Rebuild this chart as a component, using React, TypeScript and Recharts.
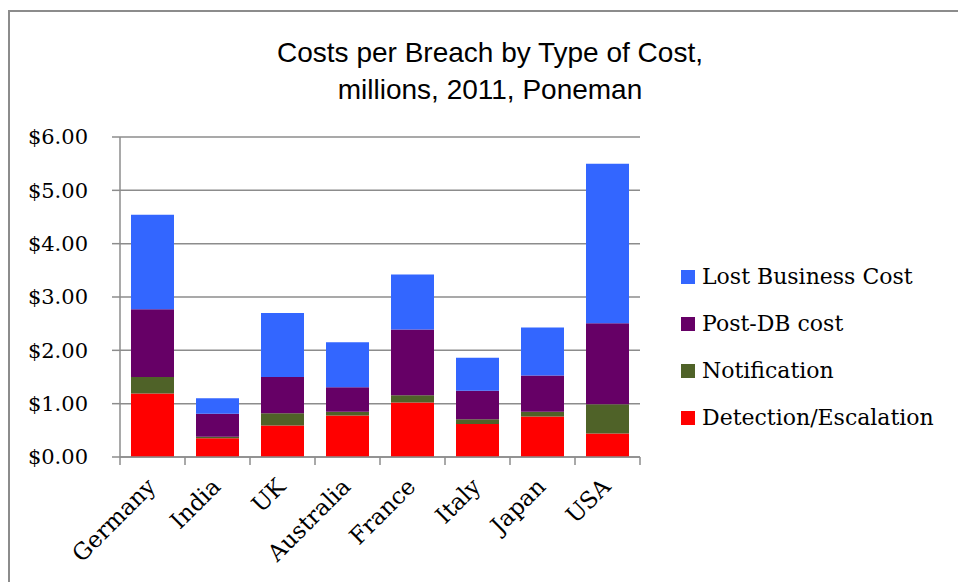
import { BarChart, Bar, XAxis, YAxis, CartesianGrid, Legend } from 'recharts'

const COUNTRIES = ['Germany', 'India', 'UK', 'Australia', 'France', 'Italy', 'Japan', 'USA']

// millions of dollars
const DETECTION = [1.19, 0.35, 0.59, 0.78, 1.02, 0.62, 0.76, 0.44]
const NOTIFICATION = [0.31, 0.03, 0.23, 0.07, 0.14, 0.09, 0.09, 0.55]
const POST_DB = [1.27, 0.43, 0.68, 0.46, 1.23, 0.53, 0.68, 1.52]
const LOST_BUSINESS = [1.77, 0.29, 1.20, 0.84, 1.03, 0.62, 0.90, 2.99]

const Y_TICKS = [0, 1, 2, 3, 4, 5, 6]

const SERIES = [
    { key: 'detection', name: 'Detection/Escalation', color: '#ff0000', values: DETECTION },
    { key: 'notification', name: 'Notification', color: '#4f6228', values: NOTIFICATION },
    { key: 'postDb', name: 'Post-DB cost', color: '#660066', values: POST_DB },
    { key: 'lost', name: 'Lost Business Cost', color: '#3366ff', values: LOST_BUSINESS },
]

const data = COUNTRIES.map((country, i) => {
    const row: Record<string, string | number> = { country }
    SERIES.forEach(s => { row[s.key] = s.values[i] })
    return row
})

const W = 958
const H = 582
const MARGIN = { top: 137, right: 318, bottom: 25, left: 8 }
const Y_AXIS_W = 112
const X_AXIS_H = 100
const BAND = (W - MARGIN.left - Y_AXIS_W - MARGIN.right) / COUNTRIES.length

const GRAY = '#8c8c8c'
const SERIF = "'DejaVu Serif', serif"

function CountryTick(props: any) {
    const { x, y, payload, index } = props
    const half = BAND / 2
    return (
        <g>
            <line x1={x - half} x2={x - half} y1={y} y2={y + 8} stroke={GRAY} strokeWidth={1.5} />
            {index === COUNTRIES.length - 1 && (
                <line x1={x + half} x2={x + half} y1={y} y2={y + 8} stroke={GRAY} strokeWidth={1.5} />
            )}
            <text
                transform={`translate(${x + 4.5},${y + 31}) rotate(-45)`}
                textAnchor='end'
                fontFamily={SERIF}
                fontSize={23}
                fill='#000'
            >
                {payload.value}
            </text>
        </g>
    )
}

// legend lists the top of the stack first, like the original
function LegendList() {
    const items = [...SERIES].reverse()
    return (
        <div>
            {items.map(item => (
                <div key={item.key} style={{ display: 'flex', alignItems: 'center', height: 46.8 }}>
                    <span style={{ width: 14, height: 14, background: item.color, marginRight: 7, display: 'inline-block' }} />
                    <span style={{ fontFamily: SERIF, fontSize: 22, color: '#000', lineHeight: '26px' }}>{item.name}</span>
                </div>
            ))}
        </div>
    )
}

export default function App() {
    return (
        <div style={{ position: 'absolute', left: 0, top: 0, width: W, height: H, overflow: 'hidden', background: '#fff' }}>
            <div style={{
                position: 'absolute', left: 8, top: 10, width: W + 20, height: H + 20,
                border: `2px solid ${GRAY}`, boxSizing: 'border-box'
            }} />
            <div style={{
                position: 'absolute', left: 240, top: 35, width: 500, textAlign: 'center', whiteSpace: 'nowrap',
                fontFamily: "'Liberation Sans', Arial, sans-serif", fontSize: 28, lineHeight: '36.7px', color: '#000'
            }}>
                Costs per Breach by Type of Cost,<br />millions, 2011, Poneman
            </div>
            <div style={{ position: 'absolute', left: 0, top: 0 }}>
                <BarChart width={W} height={H} data={data} margin={MARGIN}>
                    <CartesianGrid vertical={false} stroke={GRAY} strokeWidth={1.5} />
                    <XAxis
                        dataKey='country'
                        height={X_AXIS_H}
                        interval={0}
                        tickLine={false}
                        tickSize={0}
                        tickMargin={0}
                        axisLine={{ stroke: GRAY, strokeWidth: 1.5 }}
                        tick={<CountryTick />}
                    />
                    <YAxis
                        width={Y_AXIS_W}
                        domain={[0, 6]}
                        ticks={Y_TICKS}
                        tickSize={8}
                        tickMargin={24}
                        tickLine={{ stroke: GRAY, strokeWidth: 1.5 }}
                        axisLine={{ stroke: GRAY, strokeWidth: 1.5 }}
                        tickFormatter={(v: number) => `$${v.toFixed(2)}`}
                        tick={{ fill: '#000', fontFamily: SERIF, fontSize: 21 }}
                    />
                    <Legend
                        layout='vertical'
                        align='center'
                        verticalAlign='middle'
                        wrapperStyle={{ position: 'absolute', left: 681, top: 254, width: 270 }}
                        content={<LegendList />}
                    />
                    {SERIES.map(s => (
                        <Bar
                            key={s.key}
                            dataKey={s.key}
                            name={s.name}
                            stackId='cost'
                            fill={s.color}
                            barSize={43}
                            isAnimationActive={false}
                        />
                    ))}
                </BarChart>
            </div>
        </div>
    )
}
